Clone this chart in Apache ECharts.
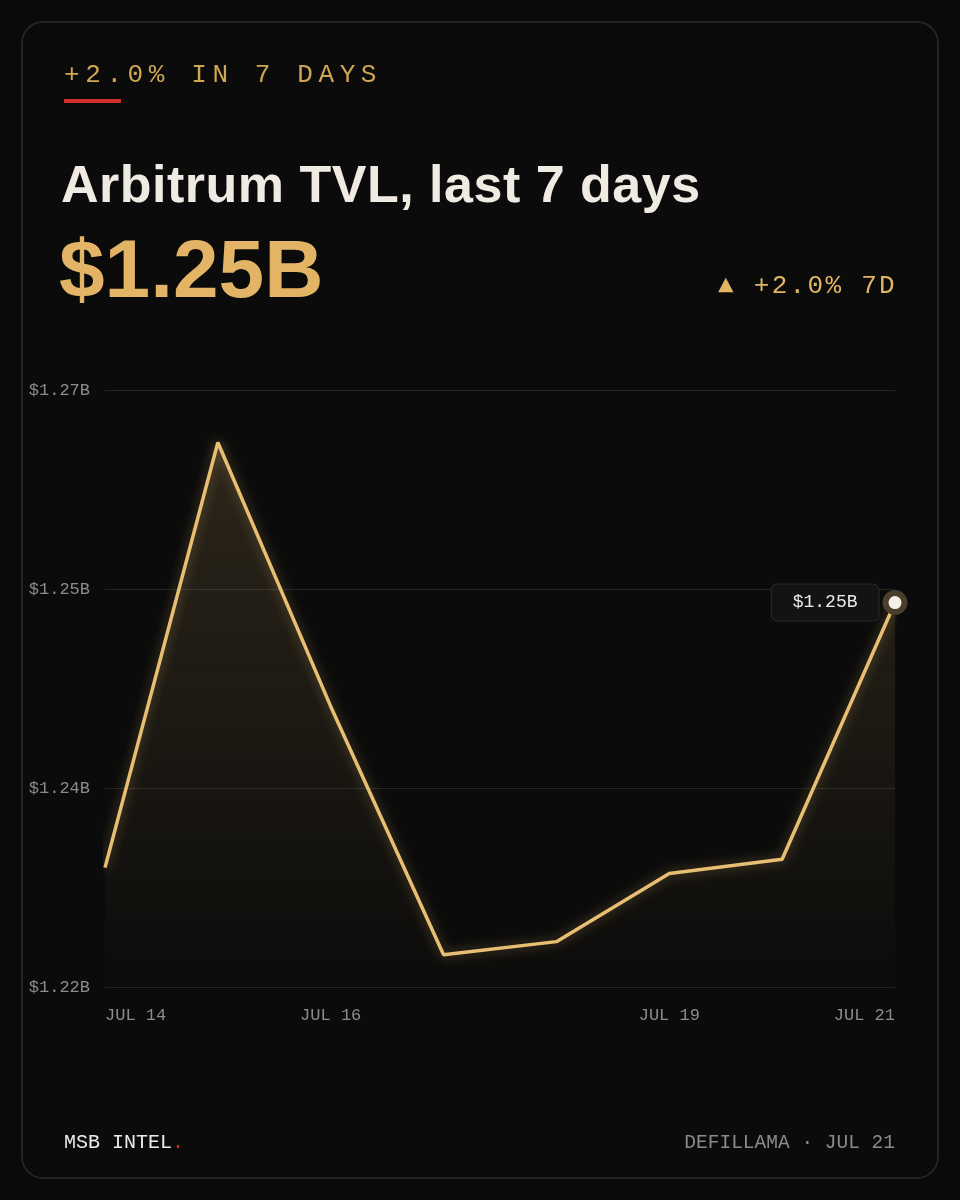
<!DOCTYPE html>
<html>
<head>
<meta charset="utf-8">
<script src="https://cdn.jsdelivr.net/npm/echarts@6/dist/echarts.min.js"></script>
<style>
  html, body { margin: 0; padding: 0; background: #0a0a0a; }
  #stage { position: relative; width: 960px; height: 1200px; overflow: hidden; }
  #card {
    position: absolute; left: 21px; top: 21px; width: 914px; height: 1154px;
    border: 2px solid #232323; border-radius: 22px; background: #0b0b0b;
  }
  #chart { position: absolute; left: 0; top: 0; width: 960px; height: 1200px; }
  .t { position: absolute; white-space: nowrap; margin: 0; }
  .mono { font-family: "Liberation Mono", "DejaVu Sans Mono", monospace; }
  .sans { font-family: "Liberation Sans", Arial, sans-serif; font-weight: 700; }
</style>
</head>
<body>
<div id="stage">
  <div id="card"></div>
  <div id="chart"></div>
  <div class="t mono" style="left:64px; top:62px; font-size:26px; line-height:26px; letter-spacing:5.6px; color:#cfa653;">+2.0% IN 7 DAYS</div>
  <div class="t" style="left:64px; top:99px; width:57px; height:4px; background:#cf2f2c;"></div>
  <div class="t sans" style="left:61px; top:158px; font-size:52px; line-height:52px; letter-spacing:0.5px; color:#efebe3;">Arbitrum TVL, last 7 days</div>
  <div class="t sans" style="left:59px; top:228px; font-size:82px; line-height:82px; color:#e3b466;">$1.25B</div>
  <div class="t mono" style="right:63px; top:273px; font-size:26px; line-height:26px; letter-spacing:2.3px; color:#e2b565;">▲ +2.0% 7D</div>
  <div class="t mono" style="left:64px; top:1133px; font-size:20px; line-height:20px; color:#ecebe8;">MSB INTEL<span style="color:#d0312d;">.</span></div>
  <div class="t mono" style="right:65px; top:1133px; font-size:19.5px; line-height:20px; color:#8a8a8a;">DEFILLAMA · JUL 21</div>
</div>
<script>
// values, $B
const days = ["JUL 14", "JUL 15", "JUL 16", "JUL 17", "JUL 18", "JUL 19", "JUL 20", "JUL 21"];
const tvl = [1.2300, 1.2656, 1.2435, 1.2227, 1.2238, 1.2295, 1.2307, 1.2522];
const yTicks = ["$1.22B", "$1.24B", "$1.25B", "$1.27B"];
const shownDays = [0, 2, 5, 7];

const MONO = '"Liberation Mono", "DejaVu Sans Mono", monospace';
const GOLD = "#e8be72";

const last = tvl.length - 1;
const seriesData = tvl.map((v, i) => i !== last ? v : {
  value: v,
  symbol: "circle",
  symbolSize: 19,
  itemStyle: { color: "#f6f1e6", borderColor: "#4a3f2c", borderWidth: 6, shadowBlur: 0 },
  label: {
    show: true,
    position: "left",
    distance: 4,
    formatter: "$1.25B",
    fontFamily: MONO,
    fontSize: 18,
    color: "#ecebe8",
    backgroundColor: "#131313",
    borderColor: "#2a2a2a",
    borderWidth: 1,
    borderRadius: 6,
    padding: [9, 21],
  },
});

const chart = echarts.init(document.getElementById("chart"), null, { renderer: "canvas" });
chart.setOption({
  animation: false,
  backgroundColor: "transparent",
  grid: { left: 105, right: 65, top: 390, bottom: 213 },
  xAxis: {
    type: "category",
    data: days,
    boundaryGap: false,
    axisLine: { show: false },
    axisTick: { show: false },
    splitLine: { show: false },
    axisLabel: {
      interval: (i) => shownDays.includes(i),
      alignMinLabel: "left",
      alignMaxLabel: "right",
      margin: 20,
      fontFamily: MONO,
      fontSize: 17,
      color: "#8c8c8c",
    },
  },
  yAxis: [
    { type: "value", min: 1.22, max: 1.27, show: false },
    {
      type: "category",
      data: yTicks,
      position: "left",
      boundaryGap: false,
      axisLine: { show: false },
      axisTick: { show: false },
      splitLine: { show: true, lineStyle: { color: "#252525", width: 1 } },
      axisLabel: { margin: 15, fontFamily: MONO, fontSize: 17, color: "#8c8c8c" },
    },
  ],
  series: [{
    type: "line",
    yAxisIndex: 0,
    data: seriesData,
    symbol: "none",
    lineStyle: { color: GOLD, width: 3.5, shadowBlur: 12, shadowColor: "rgba(232,190,114,0.45)" },
    areaStyle: {
      color: new echarts.graphic.LinearGradient(0, 0, 0, 1, [
        { offset: 0, color: "rgba(232,190,114,0.22)" },
        { offset: 1, color: "rgba(232,190,114,0.01)" },
      ]),
    },
    z: 3,
  }],
});
</script>
</body>
</html>
